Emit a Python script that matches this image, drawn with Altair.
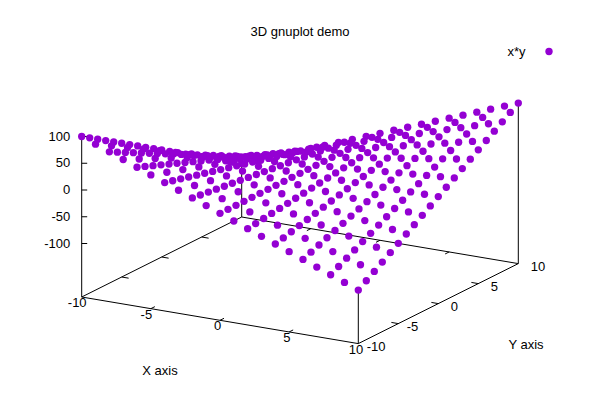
import altair as alt
import pandas as pd

TITLE = "3D gnuplot demo"
SERIES = "x*y"
X_LABEL = "X axis"
Y_LABEL = "Y axis"

x_values = [-10, -9, -8, -7, -6, -5, -4, -3, -2, -1, 0, 1, 2, 3, 4, 5, 6, 7, 8, 9, 10]
y_values = [-10, -9, -8, -7, -6, -5, -4, -3, -2, -1, 0, 1, 2, 3, 4, 5, 6, 7, 8, 9, 10]
_ = None
# one row per x value, one column per y value; gaps are places where no point shows
z_rows = [
    [100, 90, 80, 70, 60, 50, 40, 30, 20, 10, 0, -10, -20, -30, -40, -50, -60, -70, -80, -90, -100],
    [90, _, 72, _, 54, _, 36, _, 18, _, 0, _, -18, _, -36, _, -54, _, -72, _, -90],
    [80, 72, 64, 56, 48, 40, 32, 24, 16, 8, 0, -8, -16, -24, -32, -40, -48, -56, -64, -72, -80],
    [70, _, 56, _, 42, _, 28, _, 14, _, 0, _, -14, _, -28, _, -42, _, -56, _, -70],
    [60, 54, 48, 42, 36, 30, 24, 18, 12, 6, 0, -6, -12, -18, -24, -30, -36, -42, -48, -54, -60],
    [50, _, 40, _, 30, _, 20, _, 10, _, 0, _, -10, _, -20, _, -30, _, -40, _, -50],
    [40, 36, 32, 28, 24, 20, 16, 12, 8, 4, 0, -4, -8, -12, -16, -20, -24, -28, -32, -36, -40],
    [30, _, 24, _, 18, _, 12, _, 6, _, 0, _, -6, _, -12, _, -18, _, -24, _, -30],
    [20, 18, 16, 14, 12, 10, 8, 6, 4, 2, 0, -2, -4, -6, -8, -10, -12, -14, -16, -18, -20],
    [10, _, 8, _, 6, _, 4, _, 2, _, 0, _, -2, _, -4, _, -6, _, -8, _, -10],
    [0, 0, 0, 0, 0, 0, 0, 0, 0, 0, 0, 0, 0, 0, 0, 0, 0, 0, 0, 0, 0],
    [-10, _, -8, _, -6, _, -4, _, -2, _, 0, _, 2, _, 4, _, 6, _, 8, _, 10],
    [-20, -18, -16, -14, -12, -10, -8, -6, -4, -2, 0, 2, 4, 6, 8, 10, 12, 14, 16, 18, 20],
    [-30, _, -24, _, -18, _, -12, _, -6, _, 0, _, 6, _, 12, _, 18, _, 24, _, 30],
    [-40, -36, -32, -28, -24, -20, -16, -12, -8, -4, 0, 4, 8, 12, 16, 20, 24, 28, 32, 36, 40],
    [-50, _, -40, _, -30, _, -20, _, -10, _, 0, _, 10, _, 20, _, 30, _, 40, _, 50],
    [-60, -54, -48, -42, -36, -30, -24, -18, -12, -6, 0, 6, 12, 18, 24, 30, 36, 42, 48, 54, 60],
    [-70, _, -56, _, -42, _, -28, _, -14, _, 0, _, 14, _, 28, _, 42, _, 56, _, 70],
    [-80, -72, -64, -56, -48, -40, -32, -24, -16, -8, 0, 8, 16, 24, 32, 40, 48, 56, 64, 72, 80],
    [-90, _, -72, _, -54, _, -36, _, -18, _, 0, _, 18, _, 36, _, 54, _, 72, _, 90],
    [-100, -90, -80, -70, -60, -50, -40, -30, -20, -10, 0, 10, 20, 30, 40, 50, 60, 70, 80, 90, 100],
]
x_ticks = [-10, -5, 0, 5, 10]
y_ticks = [-10, -5, 0, 5, 10]
z_ticks = [-100, -50, 0, 50, 100]
z_base = -200


# the fixed view of the 3D box onto the page
def project(x, y, z):
    return (300.0 + 13.83 * x + 8.0 * y, 173.3 + 2.33 * x - 4.0 * y - 0.535 * z)


points = []
for i, x in enumerate(x_values):
    for j, y in enumerate(y_values):
        z = z_rows[i][j]
        if z is not None:
            u, v = project(x, y, z)
            points.append({"u": u, "v": v, "x": x, "y": y, "z": z})

segments = []


def seg(a, b):
    ua, va = project(*a)
    ub, vb = project(*b)
    segments.append({"u": ua, "v": va, "u2": ub, "v2": vb})


# base frame
seg((-10, -10, z_base), (10, -10, z_base))
seg((10, -10, z_base), (10, 10, z_base))
seg((10, 10, z_base), (-10, 10, z_base))
seg((-10, 10, z_base), (-10, -10, z_base))
# corner verticals
seg((-10, -10, z_base), (-10, -10, z_rows[0][0]))
seg((10, 10, z_base), (10, 10, z_rows[20][20]))
seg((10, -10, z_base), (10, -10, z_rows[20][0]))
seg((-10, 10, z_base), (-10, 10, z_rows[0][20]))
# base ticks on both opposite edges
for t in x_ticks[1:-1]:
    seg((t, -10, z_base), (t, -9.5, z_base))
    seg((t, 10, z_base), (t, 9.5, z_base))
for t in y_ticks[1:-1]:
    seg((-10, t, z_base), (-9.5, t, z_base))
    seg((10, t, z_base), (9.5, t, z_base))
# z ticks
for t in z_ticks:
    ua, va = project(-10, -10, t)
    segments.append({"u": ua, "v": va, "u2": ua + 5.5, "v2": va})

x_labels = []
for t in x_ticks:
    u, v = project(t, -10, z_base)
    x_labels.append({"u": u - (4.5 if t < 0 else 2.3), "v": v + 6.0, "t": str(t)})

y_labels = []
for t in y_ticks:
    u, v = project(10, t, z_base)
    y_labels.append({"u": u + (8.4 if t < 0 else 12.4), "v": v + 3.5, "t": str(t)})

z_labels = []
for t in z_ticks:
    u, v = project(-10, -10, t)
    z_labels.append({"u": u - 11.5, "v": v, "t": str(t)})

center_labels = [
    {"u": 300, "v": 31.5, "t": TITLE},
    {"u": 160, "v": 370.5, "t": X_LABEL},
    {"u": 526, "v": 344.5, "t": Y_LABEL},
] + x_labels

left_labels = y_labels
right_labels = z_labels + [{"u": 525.5, "v": 52, "t": SERIES}]

xs = alt.Scale(domain=[8, 592])
ys = alt.Scale(domain=[392, 8])
X = alt.X("u:Q", scale=xs, axis=None)
Y = alt.Y("v:Q", scale=ys, axis=None)
FONT = "Liberation Sans"


def text_layer(rows, align):
    return (
        alt.Chart(pd.DataFrame(rows))
        .mark_text(font=FONT, fontSize=13, align=align, baseline="middle", color="black")
        .encode(x=X, y=Y, text="t:N")
    )


rules = (
    alt.Chart(pd.DataFrame(segments))
    .mark_rule(color="black", strokeWidth=1)
    .encode(x=X, y=Y, x2="u2:Q", y2="v2:Q")
)
dots = (
    alt.Chart(pd.DataFrame(points))
    .mark_circle(size=54, color="#9400d3", opacity=1)
    .encode(x=X, y=Y)
)
legend_dot = (
    alt.Chart(pd.DataFrame([{"u": 549, "v": 51.5}]))
    .mark_circle(size=54, color="#9400d3", opacity=1)
    .encode(x=X, y=Y)
)

chart = (
    alt.layer(
        rules,
        dots,
        legend_dot,
        text_layer(center_labels, "center"),
        text_layer(left_labels, "left"),
        text_layer(right_labels, "right"),
    )
    .properties(width=584, height=384, padding=0, autosize=alt.AutoSizeParams(type="none"), background="white")
    .configure_view(stroke=None)
)

chart.save("out.html", embed_options={"renderer": "svg", "actions": False})
